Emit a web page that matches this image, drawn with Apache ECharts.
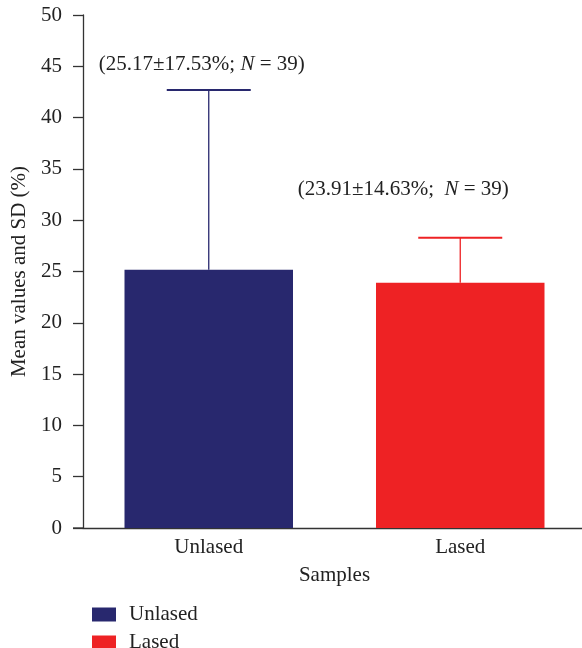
<!DOCTYPE html>
<html><head><meta charset="utf-8">
<script src="https://cdn.jsdelivr.net/npm/echarts@6/dist/echarts.min.js"></script>
<style>html,body{margin:0;padding:0;background:#fff}#c{width:582px;height:648px}</style>
</head><body><div id="c"></div>
<script>
const categories = ['Unlased', 'Lased'];
const meanValues = [25.17, 23.91];
const errorTops = [42.7, 28.3];
const annotations = ['(25.17\u00b117.53%; {i|N} = 39)', '(23.91\u00b114.63%;  {i|N} = 39)'];
const yTicks = { min: 0, max: 50, interval: 5 };
const colors = ['#28286e', '#ee2224'];

const font = '"Liberation Serif", "DejaVu Serif", serif';
const FS = 21;
const chart = echarts.init(document.getElementById('c'));
const labelOffsets = [[-7, -25], [-57, -48]];

const legendBase = {
  orient: 'vertical', left: 92, padding: 0, itemWidth: 24, itemHeight: 14, itemGap: 13,
  icon: 'rect', textStyle: { fontFamily: font, fontSize: FS, color: '#222', lineHeight: 14, padding: [0, 0, 0, 8] }
};

chart.setOption({
  animation: false,
  textStyle: { fontFamily: font },
  grid: { left: 83, right: -4, top: 15, bottom: 120, outerBoundsMode: 'none', containLabel: false },
  legend: [
    Object.assign({}, legendBase, { top: 604, data: [categories[0]] }),
    Object.assign({}, legendBase, { top: 632, data: [categories[1]] })
  ],
  xAxis: {
    type: 'category', data: categories,
    name: 'Samples', nameLocation: 'middle', nameGap: 37,
    nameTextStyle: { fontFamily: font, fontSize: FS, color: '#222' },
    axisLine: { lineStyle: { color: '#333', width: 1.3 } },
    axisTick: { show: false },
    axisLabel: { fontFamily: font, fontSize: FS, color: '#222', margin: 9 }
  },
  yAxis: {
    type: 'value', min: yTicks.min, max: yTicks.max, interval: yTicks.interval,
    name: 'Mean values and SD (%)', nameLocation: 'middle', nameGap: 48,
    nameTextStyle: { fontFamily: font, fontSize: FS, color: '#222' },
    splitLine: { show: false },
    axisLine: { show: true, lineStyle: { color: '#333', width: 1.3 } },
    axisTick: { show: true, length: 10, lineStyle: { color: '#333', width: 1.3 } },
    axisLabel: { fontFamily: font, fontSize: FS, color: '#222', margin: 21 }
  },
  series: [
    {
      name: categories[0], type: 'bar', stack: 's', barWidth: '67%',
      itemStyle: { color: colors[0] },
      data: [meanValues[0], '-']
    },
    {
      name: categories[1], type: 'bar', stack: 's', barWidth: '67%',
      itemStyle: { color: colors[1] },
      data: ['-', meanValues[1]]
    },
    {
      type: 'custom', name: 'err', z: 5,
      data: categories.map((c, i) => [i, meanValues[i], errorTops[i]]),
      renderItem: function (params, api) {
        const i = api.value(0);
        const base = api.coord([i, api.value(1)]);
        const top = api.coord([i, api.value(2)]);
        const half = 42;
        const col = colors[i];
        const off = labelOffsets[i];
        return {
          type: 'group',
          children: [
            { type: 'line', shape: { x1: base[0], y1: base[1], x2: top[0], y2: top[1] }, style: { stroke: col, lineWidth: 1.3 } },
            { type: 'line', shape: { x1: top[0] - half, y1: top[1], x2: top[0] + half, y2: top[1] }, style: { stroke: col, lineWidth: 2 } },
            { type: 'text', x: top[0] + off[0], y: top[1] + off[1],
              style: { text: annotations[i], fontFamily: font, fontSize: FS, fill: '#222', align: 'center', verticalAlign: 'middle',
                rich: { i: { fontStyle: 'italic', fontFamily: font, fontSize: FS, fill: '#222' } } } }
          ]
        };
      }
    }
  ]
});

// extend the x axis line left of the y axis, as in the reference
const origin = chart.convertToPixel({ yAxisIndex: 0 }, 0);
chart.setOption({
  graphic: [{ type: 'line', shape: { x1: 73, y1: origin, x2: 84, y2: origin }, style: { stroke: '#333', lineWidth: 1.3 } }]
});
</script></body></html>
